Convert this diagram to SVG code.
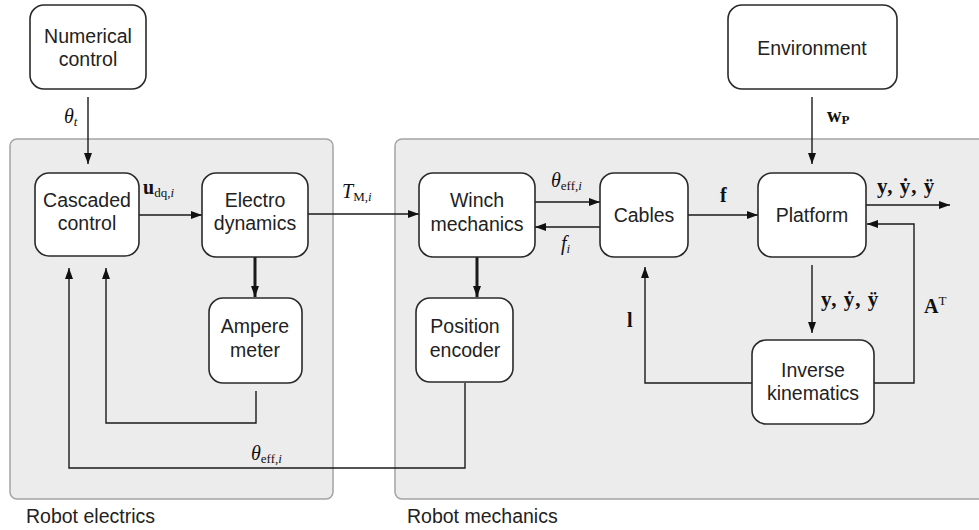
<svg xmlns="http://www.w3.org/2000/svg" width="979" height="530" viewBox="0 0 979 530">
<defs>
<marker id="ah" markerUnits="userSpaceOnUse" markerWidth="11" markerHeight="8" refX="11" refY="4" orient="auto">
<path d="M0,0 L11,4 L0,8 z" fill="#111"/>
</marker>
<style>
.panel{fill:#ececec;stroke:#a4a4a4;stroke-width:1.5}
.box{fill:#fff;stroke:#2a2a2a;stroke-width:1.6}
.t{font-family:"Liberation Sans",Arial,sans-serif;font-size:19.5px;fill:#222;text-anchor:middle}
.pl{font-family:"Liberation Sans",Arial,sans-serif;font-size:19.5px;fill:#222}
.m{font-family:"Liberation Serif","Times New Roman",serif;font-size:20px;fill:#111}
.s{font-size:13px}
.y{font-size:21px;letter-spacing:1px}
.e{fill:none;stroke:#1a1a1a;stroke-width:1.4}
.k{fill:none;stroke:#1a1a1a;stroke-width:3}
</style>
</defs>
<rect width="979" height="530" fill="#fff"/>
<g id="panel-electrics">
<rect class="panel" x="10" y="139" width="323" height="360" rx="7"/>
<text class="pl" x="26" y="523">Robot electrics</text>
</g>
<g id="panel-mechanics">
<rect class="panel" x="395" y="139" width="600" height="360" rx="7"/>
<text class="pl" x="407" y="523">Robot mechanics</text>
</g>
<g id="connectors">
<line class="e" x1="88" y1="97" x2="88" y2="164" marker-end="url(#ah)"/>
<line class="e" x1="139" y1="215" x2="202" y2="215" marker-end="url(#ah)"/>
<line class="k" x1="255" y1="257" x2="255" y2="297" marker-end="url(#ah)"/>
<polyline class="e" points="256,391 256,423 106,423 106,268" marker-end="url(#ah)"/>
<polyline class="e" points="465,383 465,468 69,468 69,268" marker-end="url(#ah)"/>
<line class="e" x1="308" y1="214" x2="419" y2="214" marker-end="url(#ah)"/>
<line class="e" x1="535" y1="202" x2="600" y2="202" marker-end="url(#ah)"/>
<line class="e" x1="600" y1="227" x2="535" y2="227" marker-end="url(#ah)"/>
<line class="k" x1="477" y1="257" x2="477" y2="297" marker-end="url(#ah)"/>
<line class="e" x1="688" y1="215" x2="758" y2="215" marker-end="url(#ah)"/>
<line class="e" x1="812" y1="97" x2="812" y2="164" marker-end="url(#ah)"/>
<line class="e" x1="866" y1="205" x2="950" y2="205" marker-end="url(#ah)"/>
<line class="e" x1="812" y1="265" x2="812" y2="333" marker-end="url(#ah)"/>
<polyline class="e" points="874,383 914,383 914,224 867,224" marker-end="url(#ah)"/>
<polyline class="e" points="752,383 645,383 645,267" marker-end="url(#ah)"/>
<text class="m" font-style="italic" x="64" y="123">θ<tspan class="s" dy="3">t</tspan></text>
<text class="m" x="143" y="194"><tspan font-weight="bold">u</tspan><tspan class="s" dy="3">dq,</tspan><tspan class="s" font-style="italic">i</tspan></text>
<text class="m" x="342" y="198"><tspan font-style="italic">T</tspan><tspan class="s" dy="3">M,</tspan><tspan class="s" font-style="italic">i</tspan></text>
<text class="m" x="551" y="187"><tspan font-style="italic">θ</tspan><tspan class="s" dy="3">eff,</tspan><tspan class="s" font-style="italic">i</tspan></text>
<text class="m" font-style="italic" x="561" y="250">f<tspan class="s" dy="3">i</tspan></text>
<text class="m" x="251" y="460"><tspan font-style="italic">θ</tspan><tspan class="s" dy="3">eff,</tspan><tspan class="s" font-style="italic">i</tspan></text>
<text class="m" font-weight="bold" x="720" y="202">f</text>
<text class="m" x="827" y="122"><tspan font-weight="bold">w</tspan><tspan class="s" font-weight="bold" dy="2">P</tspan></text>
<text class="m y" font-weight="bold" x="877" y="193">y, ẏ, ÿ</text>
<text class="m y" font-weight="bold" x="821" y="306">y, ẏ, ÿ</text>
<text class="m" x="924" y="313"><tspan font-weight="bold">A</tspan><tspan class="s" dy="-8">T</tspan></text>
<text class="m" font-weight="bold" x="627" y="327">l</text>
</g>
<g id="n-numerical">
<rect class="box" x="30" y="5" width="116" height="84" rx="14"/>
<text class="t" x="88" y="43">Numerical</text>
<text class="t" x="88" y="66">control</text>
</g>
<g id="n-cascaded">
<rect class="box" x="35" y="173" width="104" height="83" rx="14"/>
<text class="t" x="87" y="207">Cascaded</text>
<text class="t" x="87" y="230">control</text>
</g>
<g id="n-electro">
<rect class="box" x="202" y="173" width="106" height="84" rx="14"/>
<text class="t" x="255" y="207">Electro</text>
<text class="t" x="255" y="230">dynamics</text>
</g>
<g id="n-ampere">
<rect class="box" x="209" y="298" width="93" height="85" rx="14"/>
<text class="t" x="255" y="333">Ampere</text>
<text class="t" x="255" y="357">meter</text>
</g>
<g id="n-winch">
<rect class="box" x="419" y="173" width="116" height="84" rx="14"/>
<text class="t" x="477" y="207">Winch</text>
<text class="t" x="477" y="231">mechanics</text>
</g>
<g id="n-cables">
<rect class="box" x="600" y="173" width="88" height="84" rx="14"/>
<text class="t" x="644" y="222">Cables</text>
</g>
<g id="n-position">
<rect class="box" x="416" y="298" width="97" height="84" rx="14"/>
<text class="t" x="465" y="333">Position</text>
<text class="t" x="465" y="357">encoder</text>
</g>
<g id="n-environment">
<rect class="box" x="728" y="5" width="169" height="84" rx="14"/>
<text class="t" x="812" y="55">Environment</text>
</g>
<g id="n-platform">
<rect class="box" x="758" y="173" width="108" height="84" rx="14"/>
<text class="t" x="812" y="222">Platform</text>
</g>
<g id="n-inverse">
<rect class="box" x="752" y="340" width="122" height="84" rx="14"/>
<text class="t" x="813" y="377">Inverse</text>
<text class="t" x="813" y="400">kinematics</text>
</g>
</svg>
